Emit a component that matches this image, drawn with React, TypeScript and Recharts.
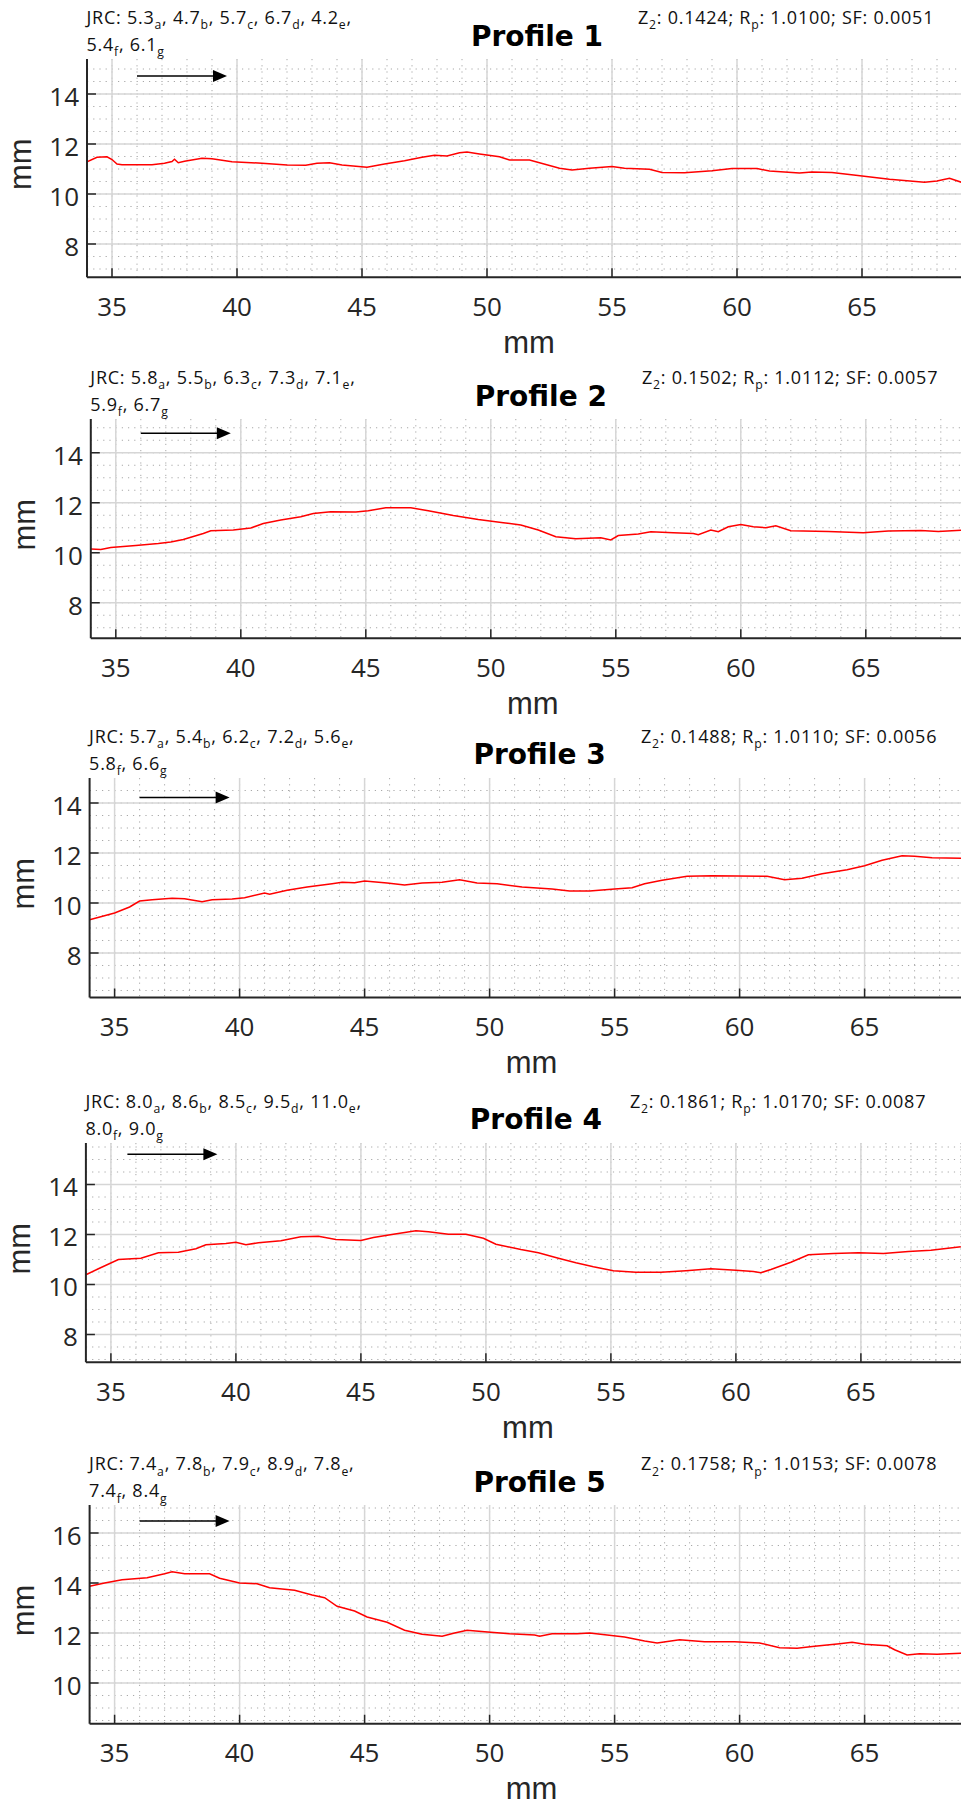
import React from "react";
import { CartesianGrid, Line, LineChart, ReferenceLine, XAxis, YAxis } from "recharts";

// Five surface profiles (height vs. position along the scan, both in mm),
// drawn MATLAB-style with axis equal, inward ticks and a dotted minor grid.

const RED = "#ff0000";
const AXIS = "#262626";
const FONT = "'Open Sans', 'Noto Sans', sans-serif";
const LABEL_FONT = "'Liberation Sans', Arial, sans-serif";
const TITLE_FONT = "'DejaVu Sans', Verdana, sans-serif";
const PX_PER_MM = 25;
const TICK_LEN = 9;

// ---- data -------------------------------------------------------------

const titles = ["Profile 1", "Profile 2", "Profile 3", "Profile 4", "Profile 5"];

const xDomain = [34, 69];
const xMajorTicks = [35, 40, 45, 50, 55, 60, 65];
const xMinorTicks = [
  34, 35, 36, 37, 38, 39, 40, 41, 42, 43, 44, 45, 46, 47, 48, 49, 50, 51,
  52, 53, 54, 55, 56, 57, 58, 59, 60, 61, 62, 63, 64, 65, 66, 67, 68, 69,
];
const yTicksLow = [8, 10, 12, 14];
const yTicksHigh = [10, 12, 14, 16];
const yMinorTicks = [
  6.5, 7, 7.5, 8, 8.5, 9, 9.5, 10, 10.5, 11, 11.5, 12, 12.5, 13, 13.5, 14,
  14.5, 15, 15.5, 16, 16.5, 17,
];

const profile1YDomain = [6.67, 15.4];
const profile2YDomain = [6.58, 15.35];
const profile3YDomain = [6.22, 15.0];
const profile4YDomain = [6.89, 15.66];
const profile5YDomain = [8.37, 17.12];

const profile1Mm = [
  34.0, 34.4, 34.8, 35.0, 35.2, 35.4, 36.6, 37.1, 37.4, 37.5, 37.65, 37.9, 38.6,
  39.0, 39.8, 41.0, 42.0, 42.75, 43.2, 43.7, 44.2, 45.2, 45.9, 46.7, 47.4, 47.9,
  48.4, 48.9, 49.2, 49.7, 50.5, 50.9, 51.7, 52.1, 52.9, 53.4, 54.1, 55.0, 55.5,
  56.5, 57.0, 57.9, 59.0, 59.8, 60.8, 61.3, 62.5, 63.0, 63.8, 64.75, 66.1, 67.5,
  68.0, 68.5, 69.0,
];
const profile1Height = [
  11.29, 11.47, 11.49, 11.38, 11.2, 11.17, 11.17, 11.23, 11.3, 11.39, 11.25, 11.31, 11.43,
  11.41, 11.29, 11.23, 11.16, 11.15, 11.23, 11.25, 11.16, 11.07, 11.2, 11.33, 11.47, 11.55,
  11.52, 11.65, 11.68, 11.6, 11.49, 11.36, 11.36, 11.25, 11.03, 10.96, 11.03, 11.1, 11.03,
  10.99, 10.86, 10.85, 10.93, 11.02, 11.02, 10.92, 10.84, 10.88, 10.86, 10.75, 10.59, 10.47,
  10.52, 10.63, 10.46,
];

const profile2Mm = [
  34.0, 34.4, 34.8, 35.8, 36.7, 37.2, 37.7, 38.5, 38.8, 39.7, 40.4, 40.9, 41.6,
  42.4, 42.9, 43.6, 44.6, 45.1, 45.8, 46.8, 47.5, 48.5, 49.5, 50.5, 51.2, 51.9,
  52.6, 53.4, 54.4, 54.8, 55.1, 55.9, 56.4, 57.3, 58.1, 58.3, 58.8, 59.1, 59.5,
  60.0, 60.5, 61.0, 61.4, 62.0, 63.5, 64.9, 65.9, 67.2, 67.9, 69.0,
];
const profile2Height = [
  10.15, 10.13, 10.21, 10.29, 10.37, 10.43, 10.53, 10.77, 10.88, 10.91, 10.99, 11.17, 11.31,
  11.44, 11.57, 11.64, 11.63, 11.68, 11.8, 11.8, 11.68, 11.49, 11.33, 11.2, 11.11, 10.91,
  10.64, 10.56, 10.6, 10.51, 10.69, 10.75, 10.84, 10.8, 10.77, 10.72, 10.91, 10.84, 11.04,
  11.13, 11.04, 11.0, 11.08, 10.88, 10.85, 10.8, 10.87, 10.89, 10.85, 10.91,
];

const profile3Mm = [
  34.0, 35.0, 35.6, 36.0, 36.5, 37.3, 37.8, 38.5, 38.9, 39.7, 40.2, 41.0, 41.2,
  41.9, 42.7, 43.7, 44.1, 44.6, 45.0, 45.9, 46.6, 47.3, 48.1, 48.8, 49.5, 50.3,
  51.3, 52.5, 53.2, 54.0, 55.0, 55.7, 56.2, 56.9, 57.9, 58.9, 59.9, 61.1, 61.8,
  62.5, 63.3, 64.3, 65.0, 65.7, 66.5, 67.0, 67.7, 69.0,
];
const profile3Height = [
  9.33, 9.6, 9.84, 10.08, 10.13, 10.19, 10.17, 10.05, 10.13, 10.16, 10.21, 10.4, 10.35,
  10.51, 10.64, 10.77, 10.83, 10.81, 10.88, 10.8, 10.72, 10.8, 10.83, 10.93, 10.8, 10.77,
  10.64, 10.56, 10.48, 10.48, 10.56, 10.61, 10.77, 10.91, 11.07, 11.09, 11.08, 11.07, 10.93,
  10.99, 11.17, 11.33, 11.49, 11.71, 11.89, 11.87, 11.81, 11.79,
];

const profile4Mm = [
  34.0, 34.5, 35.3, 36.2, 36.9, 37.7, 38.4, 38.8, 39.6, 40.0, 40.4, 40.9, 41.8,
  42.6, 43.3, 44.0, 45.0, 45.5, 46.3, 47.2, 47.7, 48.5, 49.2, 49.9, 50.4, 51.4,
  52.1, 52.9, 53.6, 54.3, 55.1, 56.0, 57.0, 58.0, 59.0, 60.0, 60.7, 61.0, 61.4,
  62.2, 62.9, 63.9, 64.9, 65.9, 66.9, 67.8, 69.0,
];
const profile4Height = [
  10.39, 10.63, 11.0, 11.05, 11.27, 11.29, 11.43, 11.59, 11.64, 11.69, 11.59, 11.67, 11.75,
  11.91, 11.93, 11.8, 11.76, 11.88, 12.01, 12.15, 12.11, 12.01, 12.01, 11.85, 11.61, 11.4,
  11.27, 11.05, 10.87, 10.71, 10.55, 10.49, 10.49, 10.55, 10.63, 10.57, 10.52, 10.47, 10.6,
  10.89, 11.19, 11.24, 11.27, 11.24, 11.32, 11.37, 11.51,
];

const profile5Mm = [
  34.0, 34.6, 35.3, 36.3, 37.0, 37.3, 37.8, 38.8, 39.2, 40.0, 40.7, 41.2, 42.2,
  42.9, 43.4, 43.9, 44.6, 45.1, 45.9, 46.6, 47.3, 48.1, 48.6, 49.1, 49.8, 50.8,
  51.8, 52.0, 52.5, 53.5, 54.0, 54.7, 55.4, 56.2, 56.7, 57.6, 58.6, 59.8, 60.8,
  61.6, 62.3, 63.0, 64.0, 64.5, 65.0, 65.9, 66.2, 66.7, 67.2, 67.9, 69.0,
];
const profile5Height = [
  13.87, 14.0, 14.13, 14.21, 14.37, 14.45, 14.37, 14.37, 14.19, 14.0, 13.97, 13.81, 13.71,
  13.52, 13.41, 13.07, 12.88, 12.64, 12.43, 12.11, 11.95, 11.87, 12.0, 12.11, 12.05, 11.97,
  11.92, 11.87, 11.97, 11.97, 12.0, 11.92, 11.84, 11.68, 11.6, 11.73, 11.65, 11.65, 11.6,
  11.41, 11.39, 11.47, 11.57, 11.63, 11.55, 11.49, 11.33, 11.12, 11.17, 11.15, 11.2,
];

// scan-direction arrows: [x start, x end, y] in mm
const arrow1 = [36.0, 39.6, 14.72];
const arrow2 = [36.0, 39.6, 14.78];
const arrow3 = [36.0, 39.6, 14.22];
const arrow4 = [35.66, 39.26, 15.21];
const arrow5 = [36.0, 39.6, 16.48];

// JRC estimates a..g, then Z2, Rp, SF
const jrcLetters = ["a", "b", "c", "d", "e", "f", "g"];
const jrc1 = ["5.3", "4.7", "5.7", "6.7", "4.2", "5.4", "6.1"];
const jrc2 = ["5.8", "5.5", "6.3", "7.3", "7.1", "5.9", "6.7"];
const jrc3 = ["5.7", "5.4", "6.2", "7.2", "5.6", "5.8", "6.6"];
const jrc4 = ["8.0", "8.6", "8.5", "9.5", "11.0", "8.0", "9.0"];
const jrc5 = ["7.4", "7.8", "7.9", "8.9", "7.8", "7.4", "8.4"];
const z2Values = ["0.1424", "0.1502", "0.1488", "0.1861", "0.1758"];
const rpValues = ["1.0100", "1.0112", "1.0110", "1.0170", "1.0153"];
const sfValues = ["0.0051", "0.0057", "0.0056", "0.0087", "0.0078"];

// ---- layout -----------------------------------------------------------

const panelLayout = [
  { left: 87, top: 59, z2Left: 638 },
  { left: 90.8, top: 419, z2Left: 642 },
  { left: 89.6, top: 777.7, z2Left: 641 },
  { left: 85.9, top: 1142.7, z2Left: 630 },
  { left: 89.6, top: 1505.3, z2Left: 641 },
];

const profiles = [
  { mm: profile1Mm, h: profile1Height, yDomain: profile1YDomain, yTicks: yTicksLow, arrow: arrow1, jrc: jrc1 },
  { mm: profile2Mm, h: profile2Height, yDomain: profile2YDomain, yTicks: yTicksLow, arrow: arrow2, jrc: jrc2 },
  { mm: profile3Mm, h: profile3Height, yDomain: profile3YDomain, yTicks: yTicksLow, arrow: arrow3, jrc: jrc3 },
  { mm: profile4Mm, h: profile4Height, yDomain: profile4YDomain, yTicks: yTicksLow, arrow: arrow4, jrc: jrc4 },
  { mm: profile5Mm, h: profile5Height, yDomain: profile5YDomain, yTicks: yTicksHigh, arrow: arrow5, jrc: jrc5 },
];

// ---- ticks & labels ---------------------------------------------------

const renderBottomTick = (p: any) => (
  <g>
    <line x1={p.x} y1={p.y} x2={p.x} y2={p.y - TICK_LEN} stroke={AXIS} strokeWidth={1.5} />
    <text x={p.x} y={p.y + 29} dy="0.36em" textAnchor="middle" fontSize={26} fontFamily={FONT} fill={AXIS}>
      {p.payload.value}
    </text>
  </g>
);

const renderTopTick = (p: any) => (
  <line x1={p.x} y1={p.y} x2={p.x} y2={p.y + TICK_LEN} stroke={AXIS} strokeWidth={1.5} />
);

const renderLeftTick = (p: any) => (
  <g>
    <line x1={p.x} y1={p.y} x2={p.x + TICK_LEN} y2={p.y} stroke={AXIS} strokeWidth={1.5} />
    <text x={p.x - 8} y={p.y} dy={12} textAnchor="end" fontSize={26} fontFamily={FONT} fill={AXIS}>
      {p.payload.value}
    </text>
  </g>
);

const renderRightTick = (p: any) => (
  <line x1={p.x} y1={p.y} x2={p.x - TICK_LEN} y2={p.y} stroke={AXIS} strokeWidth={1.5} />
);

const renderXLabel = (p: any) => {
  const vb = p.viewBox;
  return (
    <text x={vb.x + 442} y={vb.y + 75.5} textAnchor="middle" fontSize={31} fontFamily={LABEL_FONT} fill={AXIS}>
      mm
    </text>
  );
};

const renderYLabel = (p: any) => {
  const vb = p.viewBox;
  const bx = vb.x + vb.width - 56;
  const cy = vb.y + vb.height / 2 - 4;
  return (
    <text
      x={bx}
      y={cy}
      textAnchor="middle"
      fontSize={31}
      fontFamily={LABEL_FONT}
      fill={AXIS}
      transform={`rotate(-90, ${bx}, ${cy})`}
    >
      mm
    </text>
  );
};

const ArrowShape = (p: any) => {
  const head = 14;
  const half = 6;
  return (
    <g>
      <line x1={p.x1} y1={p.y1} x2={p.x2 - head + 1} y2={p.y2} stroke="#000" strokeWidth={1.6} />
      <polygon points={`${p.x2},${p.y2} ${p.x2 - head},${p.y2 - half} ${p.x2 - head},${p.y2 + half}`} fill="#000" />
    </g>
  );
};

// text with subscripts: each part is [normal text, subscript]
function SubText({ x, y, parts, size }: { x: number; y: number; parts: [string, string][]; size: number }) {
  const spans: React.ReactNode[] = [];
  const shift = size * 0.3;
  parts.forEach(([main, sub], i) => {
    spans.push(
      <tspan key={`m${i}`} dy={i === 0 ? 0 : -shift}>
        {main}
      </tspan>
    );
    if (sub) {
      spans.push(
        <tspan key={`s${i}`} dy={shift} fontSize={size * 0.68}>
          {sub}
        </tspan>
      );
    } else {
      spans.push(<tspan key={`s${i}`} dy={shift} />);
    }
  });
  return (
    <text x={x} y={y} fontSize={size} fontFamily={FONT} fill="#111" letterSpacing={0.75}>
      {spans}
    </text>
  );
}

function Panel({ index }: { index: number }) {
  const lay = panelLayout[index];
  const prof = profiles[index];
  const [lo, hi] = prof.yDomain;
  const plotH = (hi - lo) * PX_PER_MM;
  const plotW = (xDomain[1] - xDomain[0]) * PX_PER_MM;
  const mt = 12;
  const mr = 12;
  const xh = 100;
  const points = prof.mm.map((mm, i) => ({ mm, h: prof.h[i] }));
  const minorY = yMinorTicks.filter((v) => v > lo && v < hi);
  const [ax0, ax1, ay] = prof.arrow;

  return (
    <div style={{ position: "absolute", left: 0, top: lay.top - mt }}>
      <LineChart width={lay.left + plotW + mr} height={mt + plotH + xh} margin={{ top: mt, right: mr, bottom: 0, left: 0 }}>
        <CartesianGrid verticalValues={xMinorTicks} horizontalValues={minorY} stroke="#a8a8a8" strokeDasharray="1.2 5" />
        <CartesianGrid verticalValues={xMajorTicks} horizontalValues={prof.yTicks} stroke="#d6d6d6" strokeWidth={1.5} />
        <XAxis
          dataKey="mm"
          type="number"
          domain={xDomain}
          ticks={xMajorTicks}
          allowDataOverflow
          interval={0}
          height={xh}
          tickSize={0}
          tickMargin={0}
          tickLine={false}
          axisLine={{ stroke: AXIS, strokeWidth: 2 }}
          tick={renderBottomTick}
          label={renderXLabel}
        />
        <XAxis
          xAxisId="top"
          orientation="top"
          dataKey="mm"
          type="number"
          domain={xDomain}
          ticks={xMajorTicks}
          allowDataOverflow
          interval={0}
          height={0}
          tickSize={0}
          tickMargin={0}
          tickLine={false}
          axisLine={{ stroke: AXIS, strokeWidth: 2 }}
          tick={renderTopTick}
        />
        <YAxis
          type="number"
          domain={prof.yDomain}
          ticks={prof.yTicks}
          allowDataOverflow
          interval={0}
          width={lay.left}
          tickSize={0}
          tickMargin={0}
          tickLine={false}
          axisLine={{ stroke: AXIS, strokeWidth: 2 }}
          tick={renderLeftTick}
          label={renderYLabel}
        />
        <YAxis
          yAxisId="right"
          orientation="right"
          type="number"
          domain={prof.yDomain}
          ticks={prof.yTicks}
          allowDataOverflow
          interval={0}
          width={0}
          tickSize={0}
          tickMargin={0}
          tickLine={false}
          axisLine={{ stroke: AXIS, strokeWidth: 2 }}
          tick={renderRightTick}
        />
        <Line
          data={points}
          dataKey="h"
          type="linear"
          stroke={RED}
          strokeWidth={1.5}
          dot={false}
          isAnimationActive={false}
        />
        <ReferenceLine
          segment={[
            { x: ax0, y: ay },
            { x: ax1, y: ay },
          ]}
          shape={ArrowShape}
        />
      </LineChart>
    </div>
  );
}

function Headers() {
  return (
    <svg width={961} height={1807} style={{ position: "absolute", left: 0, top: 0, pointerEvents: "none" }}>
      {panelLayout.map((lay, i) => {
        const jrc = profiles[i].jrc;
        const line1: [string, string][] = [["JRC: " + jrc[0], jrcLetters[0]]];
        for (let k = 1; k < 5; k++) line1.push([", " + jrc[k], jrcLetters[k]]);
        line1.push([",", ""]);
        const line2: [string, string][] = [
          [jrc[5], jrcLetters[5]],
          [", " + jrc[6], jrcLetters[6]],
        ];
        const stats: [string, string][] = [
          ["Z", "2"],
          [": " + z2Values[i] + "; R", "p"],
          [": " + rpValues[i] + "; SF: " + sfValues[i], ""],
        ];
        return (
          <g key={i}>
            <SubText x={lay.left - 0.5} y={lay.top - 35} parts={line1} size={18} />
            <SubText x={lay.left - 0.5} y={lay.top - 8} parts={line2} size={18} />
            <SubText x={lay.z2Left} y={lay.top - 35} parts={stats} size={18} />
            <text
              x={lay.left + 450}
              y={lay.top - 13.5}
              textAnchor="middle"
              fontSize={28}
              fontWeight="bold"
              fontFamily={TITLE_FONT}
              fill="#000"
            >
              {titles[i]}
            </text>
          </g>
        );
      })}
    </svg>
  );
}

export default function App() {
  return (
    <div
      style={{
        position: "absolute",
        left: 0,
        top: 0,
        width: 961,
        height: 1807,
        overflow: "hidden",
        background: "#fff",
      }}
    >
      {profiles.map((_, i) => (
        <Panel key={i} index={i} />
      ))}
      <Headers />
    </div>
  );
}
